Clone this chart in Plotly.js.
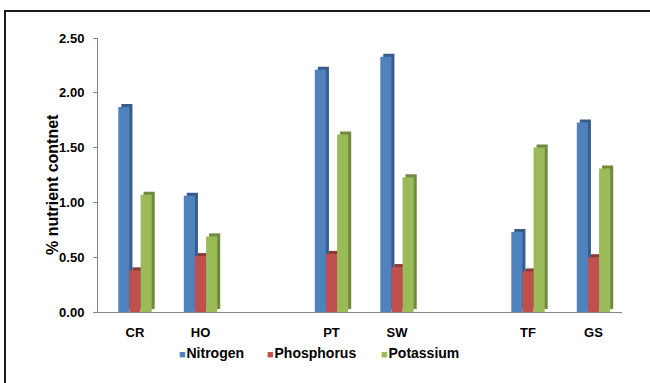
<!DOCTYPE html>
<html>
<head>
<meta charset="utf-8">
<script src="https://cdn.plot.ly/plotly-3.0.1.min.js"></script>
<style>
  html, body { margin: 0; padding: 0; background: #fff; }
  #wrap { position: relative; width: 650px; height: 383px; overflow: hidden; }
  #chart { width: 650px; height: 383px; }
  #frame { position: absolute; left: 4px; top: 10px; width: 700px; height: 420px;
           border-left: 2px solid #1a1a1a; border-top: 2px solid #1a1a1a; pointer-events: none; }
</style>
</head>
<body>
<div id="wrap"><div id="chart"></div><div id="frame"></div></div>
<script>
// Sites and their nutrient content (%)
const categories = ['CR', 'HO', 'PT', 'SW', 'TF', 'GS'];
const slots = ['CR', 'HO', 'gap1', 'PT', 'SW', 'gap2', 'TF', 'GS'];
const seriesNames = ['Nitrogen', 'Phosphorus', 'Potassium'];
const nitrogen   = [1.87, 1.06, 2.21, 2.33, 0.73, 1.73];
const phosphorus = [0.38, 0.51, 0.53, 0.41, 0.37, 0.50];
const potassium  = [1.07, 0.69, 1.62, 1.23, 1.50, 1.31];
const yTicks = [0, 0.5, 1.0, 1.5, 2.0, 2.5];

const faceColors = ['#4F81BD', '#C0504D', '#9BBB59'];
const sideColors = ['#385D8A', '#8C3836', '#71893F'];
const seriesValues = [nitrogen, phosphorus, potassium];

// plot box geometry (px)
const W = 650, H = 383;
const M = { l: 98, r: 28, t: 38, b: 71 };
const plotW = W - M.l - M.r, plotH = H - M.t - M.b;
const xRange = [-0.565, 7.435], yRange = [0, 2.5];
const pxPerCat = plotW / (xRange[1] - xRange[0]);
const pxPerUnit = plotH / (yRange[1] - yRange[0]);
const px2paperX = px => (px - M.l) / plotW;
const px2paperY = py => (H - M.b - py) / plotH;

const barW = 0.17;
const offsets = [-0.255, -0.085, 0.085];
const depthX = 3 / pxPerCat;   // depth of the pseudo-3D side, in category units
const depthY = 3 / pxPerUnit;  // rise of the top cap, in value units

const traces = [];
// darker depth faces, drawn first so the front faces sit on top
seriesValues.forEach((vals, i) => {
  traces.push({
    type: 'bar', x: categories, y: vals, base: depthY,
    offset: offsets[i] + depthX, width: barW,
    marker: { color: sideColors[i], line: { width: 0 } },
    showlegend: false, hoverinfo: 'skip'
  });
});
seriesValues.forEach((vals, i) => {
  traces.push({
    type: 'bar', name: seriesNames[i], x: categories, y: vals,
    offset: offsets[i], width: barW,
    marker: { color: faceColors[i], line: { width: 0 } },
    showlegend: false
  });
});

// legend row built from the series names and colours
const legendX = [177, 265, 379];
const annotations = seriesNames.map((n, i) => ({
  xref: 'paper', yref: 'paper', x: px2paperX(legendX[i]), y: px2paperY(353),
  xanchor: 'left', yanchor: 'middle', showarrow: false,
  text: '<span style="color:' + faceColors[i] + ';font-size:11px">■</span>' +
        '<span style="font-size:3px"> </span><b>' + n + '</b>',
  font: { family: 'Liberation Sans, Arial, sans-serif', size: 14, color: '#000' }
}));
annotations.push({
  xref: 'paper', yref: 'paper', x: px2paperX(52), y: px2paperY(185),
  xanchor: 'center', yanchor: 'middle', showarrow: false, textangle: -90,
  text: '<b>% nutrient contnet</b>',
  font: { family: 'Liberation Sans, Arial, sans-serif', size: 16, color: '#000' }
});

const layout = {
  width: W, height: H,
  margin: M,
  paper_bgcolor: '#fff', plot_bgcolor: '#fff',
  barmode: 'overlay',
  showlegend: false,
  font: { family: 'Liberation Sans, Arial, sans-serif', color: '#000' },
  xaxis: {
    type: 'category', categoryorder: 'array', categoryarray: slots,
    range: xRange, tickvals: categories, ticktext: categories.map(c => '<b>' + c + '</b>'),
    ticks: '', showgrid: false, zeroline: false,
    showline: true, linecolor: '#868686', linewidth: 1,
    tickfont: { size: 13, color: '#000' }, ticklabelstandoff: 8
  },
  yaxis: {
    range: yRange, tickvals: yTicks,
    ticktext: yTicks.map(v => '<b>' + v.toFixed(2) + '</b>'),
    ticks: 'outside', ticklen: 4, tickcolor: '#868686',
    showgrid: false, zeroline: false,
    showline: true, linecolor: '#868686', linewidth: 1,
    tickfont: { size: 13, color: '#000' }, ticklabelstandoff: 6
  },
  annotations: annotations
};

Plotly.newPlot('chart', traces, layout, { displayModeBar: false, staticPlot: true });
</script>
</body>
</html>
